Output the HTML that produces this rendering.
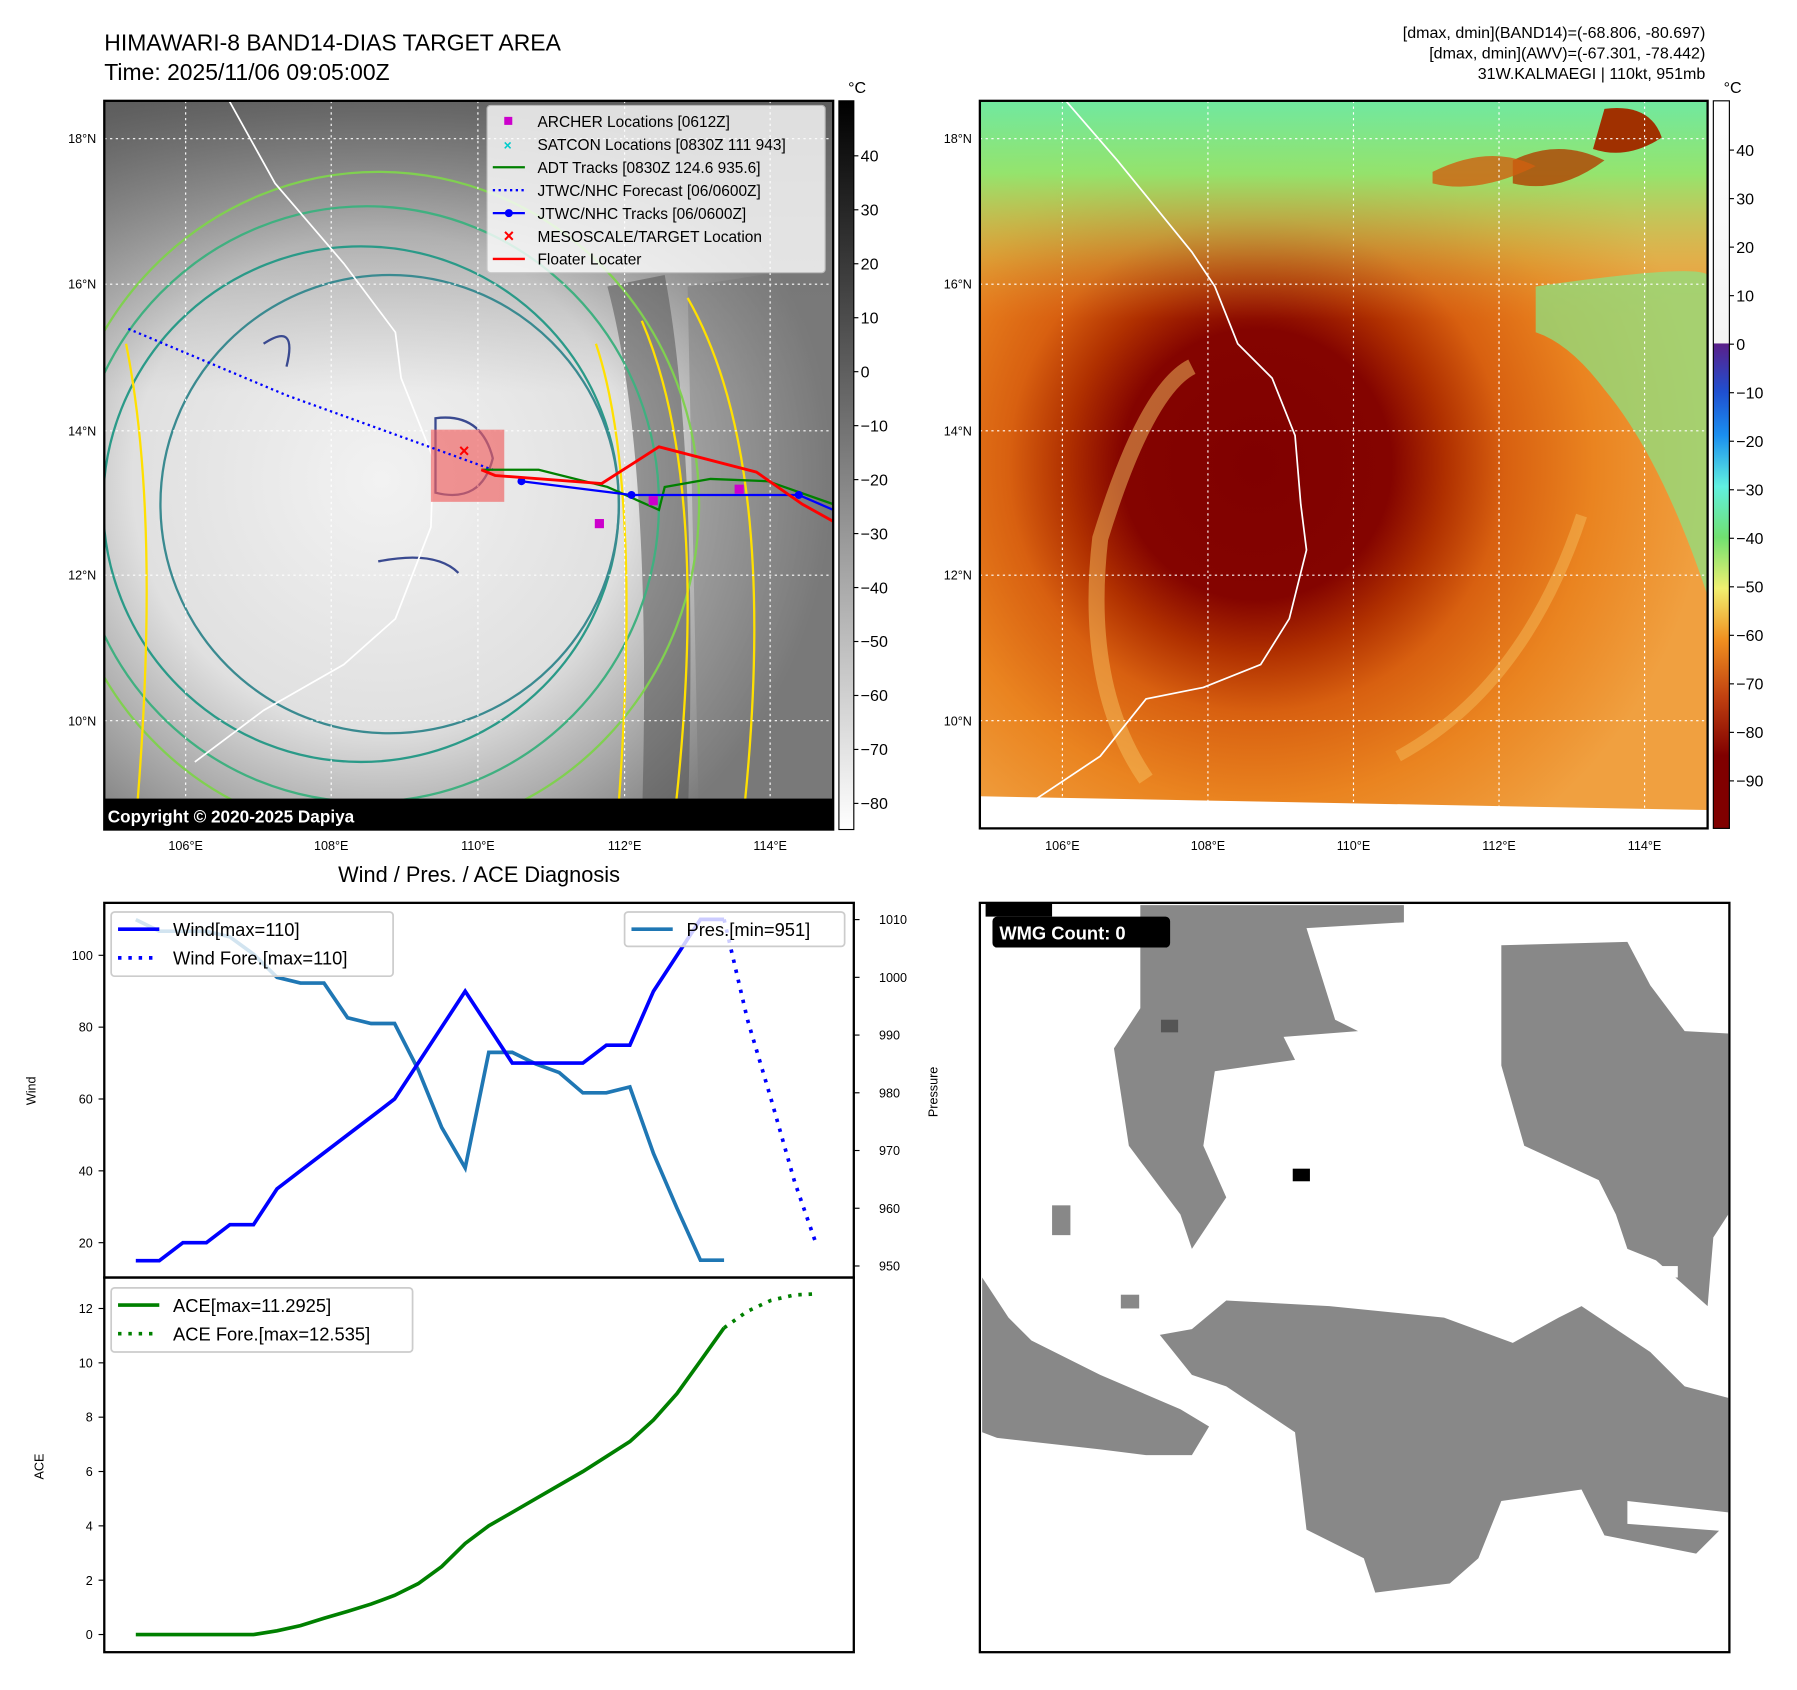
<!DOCTYPE html>
<html><head><meta charset="utf-8"><style>
html,body{margin:0;padding:0;background:#fff;}
svg{display:block;font-family:"Liberation Sans","DejaVu Sans",sans-serif;}
</style></head><body>
<svg id="fig" width="1797" height="1690" viewBox="0 0 1568 1475" preserveAspectRatio="none" xmlns="http://www.w3.org/2000/svg">
<defs>
<radialGradient id="g1" cx="0.38" cy="0.52" r="0.62">
<stop offset="0" stop-color="#f2f2f2"/><stop offset="0.55" stop-color="#e0e0e0"/><stop offset="0.72" stop-color="#b8b8b8"/><stop offset="1" stop-color="#7a7a7a"/></radialGradient>
<linearGradient id="g1top" x1="0" y1="0" x2="0" y2="1"><stop offset="0" stop-color="#555" stop-opacity="0.8"/><stop offset="0.25" stop-color="#777" stop-opacity="0.3"/><stop offset="0.4" stop-color="#888" stop-opacity="0"/></linearGradient>
<linearGradient id="cb1" x1="0" y1="0" x2="0" y2="1"><stop offset="0" stop-color="#000"/><stop offset="1" stop-color="#fff"/></linearGradient>
<linearGradient id="cb2" x1="0" y1="0" x2="0" y2="1">
<stop offset="0" stop-color="#ffffff"/><stop offset="0.333" stop-color="#f4f4f4"/><stop offset="0.334" stop-color="#5a1f8a"/>
<stop offset="0.40" stop-color="#1f4fd0"/><stop offset="0.46" stop-color="#1a8ff0"/><stop offset="0.53" stop-color="#60f0e0"/>
<stop offset="0.60" stop-color="#70e070"/><stop offset="0.67" stop-color="#f0f070"/><stop offset="0.74" stop-color="#f09020"/>
<stop offset="0.82" stop-color="#c04010"/><stop offset="0.90" stop-color="#800000"/><stop offset="1" stop-color="#800000"/></linearGradient>
<radialGradient id="g2" cx="0.38" cy="0.5" r="0.62">
<stop offset="0" stop-color="#800000"/><stop offset="0.3" stop-color="#840400"/><stop offset="0.42" stop-color="#b03000"/><stop offset="0.55" stop-color="#d86010"/><stop offset="0.75" stop-color="#ea8420"/><stop offset="1" stop-color="#f0a040"/></radialGradient>
<linearGradient id="g2top" x1="0" y1="0" x2="0" y2="1"><stop offset="0" stop-color="#70e8a0"/><stop offset="0.1" stop-color="#90e870" stop-opacity="0.95"/><stop offset="0.22" stop-color="#c0d060" stop-opacity="0.3"/><stop offset="0.3" stop-color="#e09040" stop-opacity="0"/></linearGradient>
<clipPath id="c1"><rect x="91" y="88" width="636" height="636"/></clipPath>
<clipPath id="c2"><rect x="855" y="88" width="635" height="635"/></clipPath>
</defs>

<text x="91" y="44" font-size="20">HIMAWARI-8 BAND14-DIAS TARGET AREA</text>
<text x="91" y="70" font-size="20">Time: 2025/11/06 09:05:00Z</text>
<g font-size="14" text-anchor="end">
<text x="1488" y="33">[dmax, dmin](BAND14)=(-68.806, -80.697)</text>
<text x="1488" y="51">[dmax, dmin](AWV)=(-67.301, -78.442)</text>
<text x="1488" y="69">31W.KALMAEGI | 110kt, 951mb</text>
</g>

<!-- MAP 1 -->
<g clip-path="url(#c1)">
<rect x="91" y="88" width="636" height="636" fill="url(#g1)"/>
<rect x="91" y="88" width="636" height="636" fill="url(#g1top)"/>
<path d="M530,250 Q570,400 560,720 L600,720 Q610,400 580,240 Z" fill="#555" opacity="0.55"/>
<path d="M600,250 L727,230 L727,724 L610,724 Z" fill="#777" opacity="0.45"/>
<g fill="none" stroke-width="2">
<ellipse cx="315" cy="440" rx="225" ry="225" stroke="#2a9a88"/>
<ellipse cx="320" cy="440" rx="255" ry="260" stroke="#40b080"/>
<ellipse cx="330" cy="440" rx="280" ry="290" stroke="#80d050"/>
<ellipse cx="340" cy="440" rx="200" ry="200" stroke="#3a8a90"/>
<path d="M520,300 Q560,420 540,700" stroke="#ffe000"/>
<path d="M560,280 Q620,420 590,700" stroke="#ffe000"/>
<path d="M600,260 Q680,400 650,700" stroke="#ffe000"/>
<path d="M110,300 Q140,450 120,700" stroke="#ffe000"/>
<path d="M230,300 Q260,280 250,320" stroke="#3a4a90"/>
<path d="M380,365 Q420,360 430,400 Q420,440 380,430 Z" stroke="#3a4a90"/>
<path d="M330,490 Q380,480 400,500" stroke="#3a4a90"/>
</g>
<path d="M200,88 L240,160 L300,230 L345,290 L350,330 L378,400 L376,460 L345,540 L300,580 L230,620 L170,665" fill="none" stroke="#fff" stroke-width="1.5"/>
<g stroke="#fff" stroke-dasharray="2,3" stroke-width="1">
<line x1="162" y1="88" x2="162" y2="724"/><line x1="289" y1="88" x2="289" y2="724"/><line x1="417" y1="88" x2="417" y2="724"/><line x1="545" y1="88" x2="545" y2="724"/><line x1="672" y1="88" x2="672" y2="724"/>
<line x1="91" y1="121" x2="727" y2="121"/><line x1="91" y1="248" x2="727" y2="248"/><line x1="91" y1="376" x2="727" y2="376"/><line x1="91" y1="502" x2="727" y2="502"/><line x1="91" y1="629" x2="727" y2="629"/>
</g>
<rect x="376" y="375" width="64" height="63" fill="#f06060" opacity="0.65"/>
<polyline points="112,287 250,345 430,410" fill="none" stroke="#00f" stroke-width="2" stroke-dasharray="2,3"/>
<polyline points="420,410 470,410 530,425 575,445 580,425 620,418 670,420 727,440" fill="none" stroke="#008000" stroke-width="2"/>
<polyline points="455,420 551,432 697,432 727,445" fill="none" stroke="#00f" stroke-width="2"/>
<g fill="#00f"><circle cx="455" cy="420" r="3.5"/><circle cx="551" cy="432" r="3.5"/><circle cx="697" cy="432" r="3.5"/></g>
<polyline points="420,410 432,415 525,422 575,390 660,412 700,440 727,455" fill="none" stroke="#f00" stroke-width="2.5"/>
<g fill="#c0c"><rect x="519" y="453" width="8" height="8"/><rect x="566" y="433" width="8" height="8"/><rect x="641" y="423" width="8" height="8"/></g>
<text x="405" y="399" fill="#f00" font-size="16" text-anchor="middle" font-weight="bold">×</text>
<rect x="91" y="697" width="636" height="27" fill="#000"/>
<text x="94" y="718" fill="#fff" font-size="15" font-weight="bold">Copyright © 2020-2025 Dapiya</text>
</g>
<rect x="91" y="88" width="636" height="636" fill="none" stroke="#000" stroke-width="2"/>
<g>
<rect x="425" y="92" width="295" height="146" fill="#fff" opacity="0.8" stroke="#ccc" rx="3"/>
<g font-size="13.5">
<rect x="440" y="102" width="7" height="7" fill="#c0c"/><text x="469" y="111">ARCHER Locations [0612Z]</text>
<text x="443" y="131" fill="#0cc" font-size="12" text-anchor="middle" font-weight="bold">×</text><text x="469" y="131">SATCON Locations [0830Z 111 943]</text>
<line x1="430" y1="146" x2="458" y2="146" stroke="#008000" stroke-width="2"/><text x="469" y="151">ADT Tracks [0830Z 124.6 935.6]</text>
<line x1="430" y1="166" x2="458" y2="166" stroke="#00f" stroke-width="2" stroke-dasharray="2,3"/><text x="469" y="171">JTWC/NHC Forecast [06/0600Z]</text>
<line x1="430" y1="186" x2="458" y2="186" stroke="#00f" stroke-width="2"/><circle cx="444" cy="186" r="3.5" fill="#00f"/><text x="469" y="191">JTWC/NHC Tracks [06/0600Z]</text>
<text x="444" y="211" fill="#f00" font-size="16" text-anchor="middle" font-weight="bold">×</text><text x="469" y="211">MESOSCALE/TARGET Location</text>
<line x1="430" y1="226" x2="458" y2="226" stroke="#f00" stroke-width="2"/><text x="469" y="231">Floater Locater</text>
</g></g>
<g font-size="11">
<text x="84" y="125" text-anchor="end">18°N</text><text x="84" y="252" text-anchor="end">16°N</text><text x="84" y="380" text-anchor="end">14°N</text><text x="84" y="506" text-anchor="end">12°N</text><text x="84" y="633" text-anchor="end">10°N</text>
<g text-anchor="middle"><text x="162" y="742">106°E</text><text x="289" y="742">108°E</text><text x="417" y="742">110°E</text><text x="545" y="742">112°E</text><text x="672" y="742">114°E</text></g>
</g>
<rect x="732" y="88" width="13" height="636" fill="url(#cb1)" stroke="#000"/>
<text x="740" y="81" font-size="14">°C</text>
<g id="cb1ticks" font-size="14"></g>

<!-- MAP 2 -->
<g clip-path="url(#c2)">
<rect x="855" y="88" width="635" height="635" fill="url(#g2)"/>
<rect x="855" y="88" width="635" height="635" fill="url(#g2top)"/>
<path d="M1340,250 Q1480,230 1490,240 L1490,520 Q1450,400 1400,340 Q1370,300 1340,290 Z" fill="#8ee080" opacity="0.75"/>
<path d="M1400,95 Q1440,90 1450,120 Q1420,140 1390,130 Z" fill="#a03000"/>
<path d="M1320,140 Q1360,120 1400,140 Q1360,170 1320,160 Z" fill="#b04000" opacity="0.8"/>
<path d="M1250,150 Q1300,125 1340,145 Q1290,170 1250,160 Z" fill="#d06010" opacity="0.8"/>
<path d="M1040,320 Q1000,340 960,470 Q945,600 1000,680" fill="none" stroke="#f6c060" stroke-width="14" opacity="0.5"/>
<path d="M1380,450 Q1330,600 1220,660" fill="none" stroke="#f6c060" stroke-width="10" opacity="0.45"/>
<path d="M855,695 L1490,707 L1490,723 L855,723 Z" fill="#fff"/>
<path d="M930,88 L975,140 L1040,220 L1060,250 L1080,300 L1110,330 L1130,380 L1135,440 L1140,480 L1125,540 L1100,580 L1050,600 L1000,610 L960,660 L900,700" fill="none" stroke="#fff" stroke-width="1.5"/>
<g stroke="#fff" stroke-dasharray="2,3" stroke-width="1">
<line x1="927" y1="88" x2="927" y2="723"/><line x1="1054" y1="88" x2="1054" y2="723"/><line x1="1181" y1="88" x2="1181" y2="723"/><line x1="1308" y1="88" x2="1308" y2="723"/><line x1="1435" y1="88" x2="1435" y2="723"/>
<line x1="855" y1="121" x2="1490" y2="121"/><line x1="855" y1="248" x2="1490" y2="248"/><line x1="855" y1="376" x2="1490" y2="376"/><line x1="855" y1="502" x2="1490" y2="502"/><line x1="855" y1="629" x2="1490" y2="629"/>
</g>
</g>
<rect x="855" y="88" width="635" height="635" fill="none" stroke="#000" stroke-width="2"/>
<g font-size="11">
<text x="848" y="125" text-anchor="end">18°N</text><text x="848" y="252" text-anchor="end">16°N</text><text x="848" y="380" text-anchor="end">14°N</text><text x="848" y="506" text-anchor="end">12°N</text><text x="848" y="633" text-anchor="end">10°N</text>
<g text-anchor="middle"><text x="927" y="742">106°E</text><text x="1054" y="742">108°E</text><text x="1181" y="742">110°E</text><text x="1308" y="742">112°E</text><text x="1435" y="742">114°E</text></g>
</g>
<rect x="1495" y="88" width="14" height="635" fill="url(#cb2)" stroke="#000"/>
<text x="1504" y="81" font-size="14">°C</text>
<g id="cb2ticks" font-size="14"></g>

<!-- WMG panel -->
<g>
<rect x="855" y="788" width="654" height="654" fill="#fff"/>
<g fill="#888">
<polygon points="995,790 1225,790 1225,805 1140,810 1165,890 1185,900 1120,905 1130,925 1060,935 1050,1000 1070,1045 1040,1090 1030,1060 985,1000 972,915 995,880"/>
<polygon points="1310,825 1420,822 1440,860 1470,900 1508,902 1508,1060 1495,1080 1490,1140 1445,1100 1420,1090 1410,1060 1395,1030 1330,1000 1310,930"/>
<polygon points="1070,1135 1160,1140 1260,1150 1320,1172 1360,1150 1380,1140 1410,1160 1440,1180 1470,1210 1508,1220 1508,1320 1420,1310 1420,1330 1500,1336 1480,1356 1400,1340 1380,1300 1310,1310 1290,1360 1265,1382 1200,1390 1190,1360 1140,1335 1130,1250 1070,1210 1040,1200 1012,1165 1040,1160"/>
<polygon points="857,1115 880,1150 900,1170 960,1200 1030,1230 1055,1245 1040,1270 1000,1270 960,1265 870,1255 857,1250"/>
<rect x="918" y="1052" width="16" height="26"/><rect x="978" y="1130" width="16" height="12"/><rect x="1450" y="1105" width="14" height="10" fill="#fff"/>
</g>
<rect x="1128" y="1020" width="15" height="11" fill="#000"/>
<rect x="1013" y="890" width="15" height="11" fill="#555"/>
<rect x="860" y="788" width="58" height="12" fill="#000"/>
<rect x="866" y="800" width="155" height="27" rx="4" fill="#000"/>
<text x="872" y="820" fill="#fff" font-size="16" font-weight="bold">WMG Count: 0</text>
<rect x="855" y="788" width="654" height="654" fill="none" stroke="#000" stroke-width="2"/>
</g>

<text x="418" y="770" font-size="19" text-anchor="middle">Wind / Pres. / ACE Diagnosis</text>
<g id="chart"></g>
</svg>
<script>
var windObs=[15,15,20,20,25,25,35,40,45,50,55,60,70,80,90,80,70,70,70,70,75,75,90,100,110,110];
var foreIdx=[25,26,27,28,28.9];
var windFore=[110,82,60,37,20];
var presObs=[1010,1008,1008,1008,1007,1004,1000,999,999,993,992,992,984,974,967,987,987,985,983.5,980,980,981,969.5,960,951,951];
var aceObs=[0,0,0,0,0,0,0.14,0.33,0.6,0.85,1.12,1.44,1.87,2.5,3.35,4.0,4.5,5.0,5.5,6.0,6.55,7.1,7.9,8.87,10.07,11.29];
var aceFore=[11.29,11.9,12.3,12.5,12.535];
var windTicks=[20,40,60,80,100];
var presTicks=[950,960,970,980,990,1000,1010];
var aceTicks=[0,2,4,6,8,10,12];
var cb1Ticks=[40,30,20,10,0,-10,-20,-30,-40,-50,-60,-70,-80];
var cb2Ticks=[40,30,20,10,0,-10,-20,-30,-40,-50,-60,-70,-80,-90];

var NS='http://www.w3.org/2000/svg';
function mk(tag,attrs,parent){var e=document.createElementNS(NS,tag);for(var k in attrs)e.setAttribute(k,attrs[k]);parent.appendChild(e);return e;}
var L=91,R=745,T=788,M=1115,B=1442;
function xs(i){return 118.5+20.53*i;}
function yw(v){return M-(v-10.3)/(114.6-10.3)*(M-T);}
function yp(v){return M-(v-948)/(1012.9-948)*(M-T);}
function ya(v){return B-(v+0.65)/(13.14+0.65)*(B-M);}
var ch=document.getElementById('chart');
function line(xsArr,ys,fy,stroke,dash,name){
  var pts=[];for(var i=0;i<ys.length;i++)pts.push(xsArr(i).toFixed(1)+','+fy(ys[i]).toFixed(1));
  var p=mk('polyline',{points:pts.join(' '),fill:'none',stroke:stroke,'stroke-width':3.2,'stroke-dasharray':dash||'none'},ch);
  
  
}
function idx(i){return xs(i);}
function fidx(i){return xs(foreIdx[i]);}
line(idx,presObs,yp,'#1f77b4','', 'pressure-line');
line(idx,windObs,yw,'#0000ff','', 'wind-line');
line(fidx,windFore,yw,'#0000ff','3,6','wind-forecast-line');
line(idx,aceObs,ya,'#008000','', 'ace-line');
line(fidx,aceFore,ya,'#008000','3,6','ace-forecast-line');
var f1=mk('rect',{x:L,y:T,width:R-L,height:M-T,fill:'none',stroke:'#000','stroke-width':2},ch);


var f2=mk('rect',{x:L,y:M,width:R-L,height:B-M,fill:'none',stroke:'#000','stroke-width':2},ch);


function ticks(arr,fy,side,name){
  var g=mk('g',{'font-size':11},ch);
  
  
  arr.forEach(function(v){var y=fy(v);
    if(side==='l'){mk('line',{x1:L-5,y1:y,x2:L,y2:y,stroke:'#000'},g);var t=mk('text',{x:L-10,y:y+4,'text-anchor':'end'},g);t.textContent=v;}
    else{mk('line',{x1:R,y1:y,x2:R+5,y2:y,stroke:'#000'},g);var t2=mk('text',{x:R+22,y:y+4},g);t2.textContent=v;}
  });
}
ticks(windTicks,yw,'l','wind-ticks');
ticks(presTicks,yp,'r','pressure-ticks');
ticks(aceTicks,ya,'l','ace-ticks');
function lab(txt,x,y,name){var t=mk('text',{x:x,y:y,'font-size':11,'text-anchor':'middle',transform:'rotate(-90 '+x+' '+y+')'},ch);t.textContent=txt;
  
  }
lab('Wind',31,952,'wind-axis-title');lab('Pressure',818,953,'pressure-axis-title');lab('ACE',38,1280,'ace-axis-title');
function legend(x,y,w,h,items,name){
  var g=mk('g',{},ch);
  
  
  mk('rect',{x:x,y:y,width:w,height:h,rx:3,fill:'#fff','fill-opacity':0.8,stroke:'#ccc','stroke-width':1.5},g);
  items.forEach(function(it,i){var yy=y+15+i*25;
    mk('line',{x1:x+6,y1:yy,x2:x+42,y2:yy,stroke:it[1],'stroke-width':3.2,'stroke-dasharray':it[2]||'none'},g);
    var t=mk('text',{x:x+54,y:yy+6,'font-size':16},g);t.textContent=it[0];});
}
legend(97,796,246,56,[['Wind[max=110]','#0000ff'],['Wind Fore.[max=110]','#0000ff','3,6']],'wind-legend');
legend(545,796,192,30,[['Pres.[min=951]','#1f77b4']],'pressure-legend');
legend(97,1124,263,56,[['ACE[max=11.2925]','#008000'],['ACE Fore.[max=12.535]','#008000','3,6']],'ace-legend');
function cbt(id,arr,y0,step,x){var g=document.getElementById(id);
  arr.forEach(function(v,i){var y=y0+i*step;mk('line',{x1:x,y1:y,x2:x+4,y2:y,stroke:'#000'},g);var t=mk('text',{x:x+6,y:y+5},g);t.textContent=v.toString().replace('-','\u2212');});}
cbt('cb1ticks',cb1Ticks,136,47.1,745);
cbt('cb2ticks',cb2Ticks,131,42.35,1509);
</script>
</body></html>
